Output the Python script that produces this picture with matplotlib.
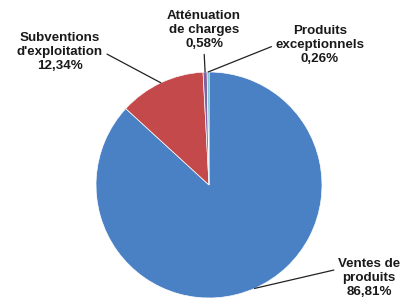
import numpy as np
import matplotlib.pyplot as plt

plt.rcParams['font.family'] = ['Liberation Sans', 'DejaVu Sans']

labels = ["Ventes de\nproduits", "Subventions\nd'exploitation",
          "Atténuation\nde charges", "Produits\nexceptionnels"]
values = [86.81, 12.34, 0.58, 0.26]
colors = ['#4a80c4', '#c4494a', '#8064a2', '#4bacc6']

# label centre (pixels from top-left) and where the leader leaves the text
text_pos = [(369, 278), (60, 52), (204, 30), (320, 45)]
rel_pos = [(0, 0.72), (1, 0.5), (0.5, 0), (0, 0.5)]

W, H = 406, 305


def main():
    fig = plt.figure(figsize=(W / 100, H / 100), dpi=100)
    cx, cy, r = 209, 185, 113
    ax = fig.add_axes([(cx - r) / W, (H - cy - r) / H, 2 * r / W, 2 * r / H])
    wedges, _ = ax.pie(values, colors=colors, startangle=90, counterclock=False,
                       radius=1, wedgeprops=dict(edgecolor='white', linewidth=0.5))
    ax.set_xlim(-1, 1)
    ax.set_ylim(-1, 1)
    ax.set_aspect('equal')
    ax.axis('off')

    for w, lab, v, (tx, ty), rp in zip(wedges, labels, values, text_pos, rel_pos):
        ang = np.deg2rad((w.theta1 + w.theta2) / 2)
        xy = (np.cos(ang), np.sin(ang))
        txt = lab + '\n' + ('%.2f%%' % v).replace('.', ',')
        ax.annotate(txt, xy=xy, xycoords='data',
                    xytext=(tx / W, 1 - ty / H), textcoords='figure fraction',
                    ha='center', va='center', fontsize=9.6, fontweight='bold',
                    color='#1a1a1a', linespacing=1.25,
                    arrowprops=dict(arrowstyle='-', color='#222222', lw=0.9,
                                    relpos=rp, shrinkA=1, shrinkB=0))

    fig.savefig('out.png', dpi=100, facecolor='white')


if __name__ == '__main__':
    main()
